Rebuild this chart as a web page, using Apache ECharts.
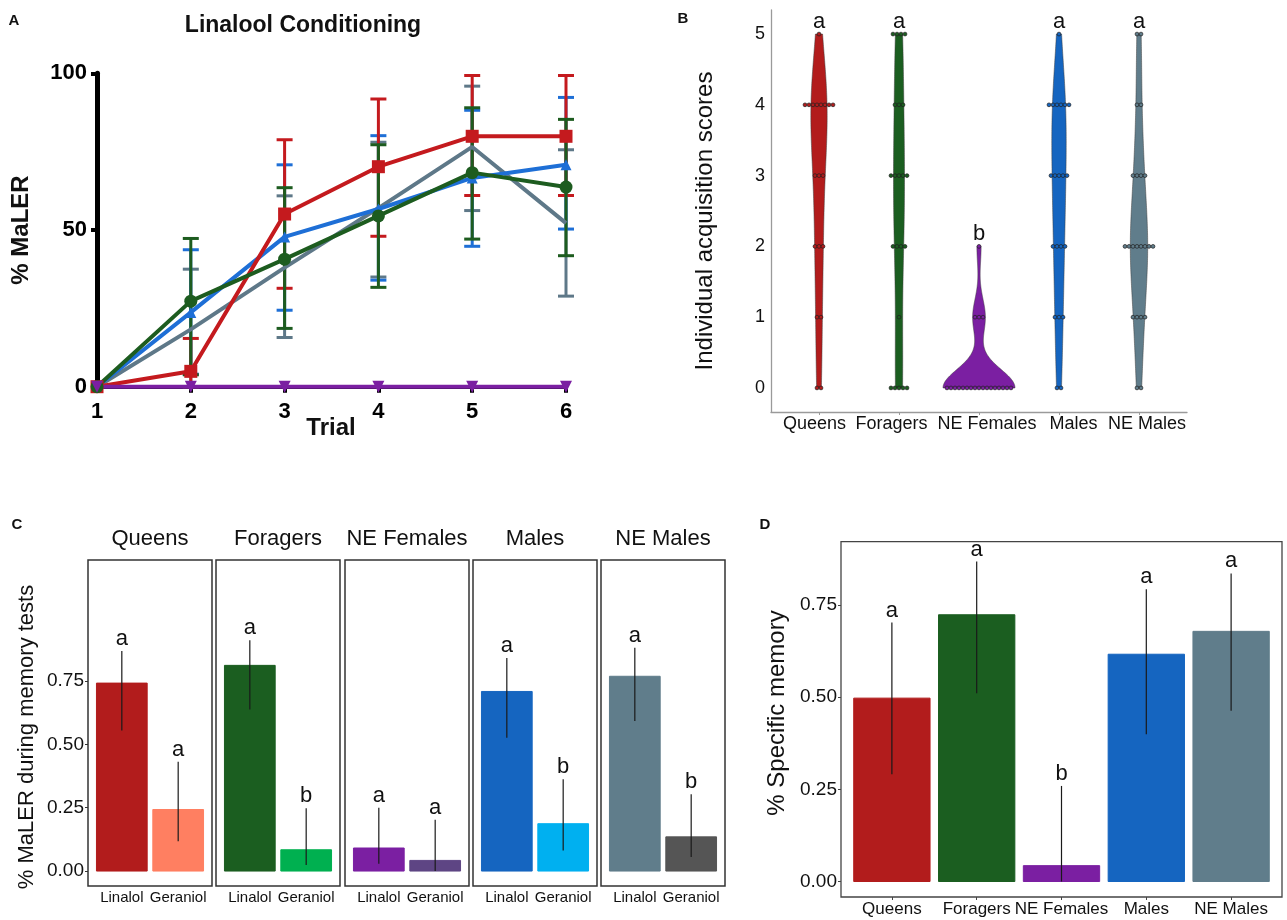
<!DOCTYPE html>
<html lang="en">
<head>
<meta charset="UTF-8">
<title>Linalool conditioning</title>
<script src="https://cdn.jsdelivr.net/npm/echarts@6/dist/echarts.min.js"></script>
<style>
    html, body { margin: 0; padding: 0; background: #fff; }
    #chart { width: 1287px; height: 920px; }
</style>
</head>
<body>
<div id="chart"></div>
<script>
// ---------- A: % MaLER per trial ----------
var trials = [1, 2, 3, 4, 5, 6];
var aQueens     = [0, 4.9, 55.1, 70.2, 79.9, 79.9];
var aQueensLo   = [0, 0, 31.4, 48.0, 61.0, 61.0];
var aQueensHi   = [0, 15.4, 78.8, 91.8, 99.3, 99.3];
var aMales      = [0, 23.7, 47.8, 56.7, 66.6, 70.8];
var aMalesLo    = [0, 4.0, 24.4, 34.0, 44.8, 50.3];
var aMalesHi    = [0, 43.7, 70.8, 80.1, 88.2, 92.3];
var aNEMales    = [0, 18.3, 38.0, 57.0, 76.5, 52.2];
var aNEMalesLo  = [0, 0, 15.7, 35.0, 56.2, 28.9];
var aNEMalesHi  = [0, 37.5, 60.9, 78.0, 95.9, 75.6];
var aForagers   = [0, 27.3, 40.7, 54.5, 68.3, 63.7];
var aForagersLo = [0, 3.8, 18.6, 31.7, 47.1, 41.8];
var aForagersHi = [0, 47.3, 63.5, 77.2, 89.0, 85.3];
var aNEFemales  = [0, 0, 0, 0, 0, 0];

// ---------- B: individual acquisition scores (dot counts per score) ----------
var bGroups = ['Queens', 'Foragers', 'NE Females', 'Males', 'NE Males'];
var bScores = [0, 1, 2, 3, 4, 5];
var bCountsQueens    = [2, 2, 3, 3, 8, 1];
var bCountsForagers  = [5, 1, 4, 5, 3, 4];
var bCountsNEFemales = [17, 3, 1, 0, 0, 0];
var bCountsMales     = [2, 3, 4, 5, 6, 1];
var bCountsNEMales   = [2, 4, 8, 4, 2, 2];
var bLetters = ['a', 'a', 'b', 'a', 'a'];

// ---------- C: memory tests, Linalol vs Geraniol ----------
var cGroups = ['Queens', 'Foragers', 'NE Females', 'Males', 'NE Males'];
var cOdors = ['Linalol', 'Geraniol'];
var cLinalol     = [0.742, 0.812, 0.091, 0.709, 0.769];
var cLinalolLo   = [0.555, 0.638, 0.029, 0.526, 0.592];
var cLinalolHi   = [0.869, 0.911, 0.250, 0.841, 0.882];
var cGeraniol    = [0.243, 0.084, 0.042, 0.187, 0.135];
var cGeraniolLo  = [0.118, 0.024, 0.000, 0.081, 0.055];
var cGeraniolHi  = [0.432, 0.248, 0.203, 0.362, 0.303];
var cLetters = [['a', 'a'], ['a', 'b'], ['a', 'a'], ['a', 'b'], ['a', 'b']];
var cTicks = [0, 0.25, 0.5, 0.75];

// ---------- D: specific memory ----------
var dGroups = ['Queens', 'Foragers', 'NE Females', 'Males', 'NE Males'];
var dValues = [0.497, 0.723, 0.043, 0.616, 0.678];
var dLo     = [0.291, 0.510, 0.000, 0.399, 0.463];
var dHi     = [0.702, 0.867, 0.259, 0.792, 0.835];
var dLetters = ['a', 'a', 'b', 'a', 'a'];
var dTicks = [0, 0.25, 0.5, 0.75];

// colours
var groupColors = ['#B21C1C', '#1B5E20', '#7B1FA2', '#1565C0', '#607D8B'];
var cColors = [['#B21C1C', '#FF7F61'], ['#1B5E20', '#00B050'], ['#7B1FA2', '#5E4584'],
               ['#1565C0', '#00B0F0'], ['#607D8B', '#555555']];
var FONT = '"Liberation Sans", Arial, sans-serif';

var chart = echarts.init(document.getElementById('chart'));

// error bars with caps for panel A
function capBars(color) {
    return function (params, api) {
        var x = api.value(0), lo = api.value(1), hi = api.value(2);
        if (hi - lo <= 0) return null;
        var p1 = api.coord([x, hi]), p2 = api.coord([x, lo]);
        var cw = 8;
        var st = { stroke: color, lineWidth: 3 };
        return {
            type: 'group',
            children: [
                { type: 'line', shape: { x1: p1[0], y1: p1[1], x2: p2[0], y2: p2[1] }, style: st },
                { type: 'line', shape: { x1: p1[0] - cw, y1: p1[1], x2: p1[0] + cw, y2: p1[1] }, style: st },
                { type: 'line', shape: { x1: p2[0] - cw, y1: p2[1], x2: p2[0] + cw, y2: p2[1] }, style: st }
            ]
        };
    };
}

function zip(xs, ys) {
    return xs.map(function (x, i) { return [x, ys[i]]; });
}
function zip3(xs, a, b) {
    return xs.map(function (x, i) { return [x, a[i], b[i]]; });
}

// bars + error line + letter (panels C and D)
function barItem(colors, letters) {
    return function (params, api) {
        var i = params.dataIndex;
        var x = api.value(0), v = api.value(1), lo = api.value(2), hi = api.value(3);
        var bw = api.size([0.9, 0])[0];
        var base = api.coord([x, 0]), top = api.coord([x, v]);
        var pLo = api.coord([x, lo]), pHi = api.coord([x, hi]);
        return {
            type: 'group',
            children: [
                { type: 'rect', shape: { x: base[0] - bw / 2, y: top[1], width: bw, height: base[1] - top[1] },
                  style: { fill: colors[i], stroke: colors[i], lineWidth: 1 } },
                { type: 'line', shape: { x1: pLo[0], y1: pLo[1], x2: pHi[0], y2: pHi[1] },
                  style: { stroke: '#1a1a1a', lineWidth: 1.2 } },
                { type: 'text', x: pHi[0], y: pHi[1] - 1,
                  style: { text: letters[i], fill: '#111', font: '22px ' + FONT, align: 'center', verticalAlign: 'bottom' } }
            ]
        };
    };
}

// ---- violin (gaussian kde, nrd0 bandwidth, area scaling) ----
var bCounts = [bCountsQueens, bCountsForagers, bCountsNEFemales, bCountsMales, bCountsNEMales];
function expand(counts) {
    var a = [];
    counts.forEach(function (c, s) { for (var k = 0; k < c; k++) a.push(bScores[s]); });
    return a;
}
function quantile(sorted, p) {
    var h = (sorted.length - 1) * p, lo = Math.floor(h);
    return sorted[lo] + (h - lo) * ((sorted[lo + 1] === undefined ? sorted[lo] : sorted[lo + 1]) - sorted[lo]);
}
function bwNrd0(x) {
    var n = x.length;
    var m = x.reduce(function (s, v) { return s + v; }, 0) / n;
    var sd = Math.sqrt(x.reduce(function (s, v) { return s + (v - m) * (v - m); }, 0) / (n - 1));
    var srt = x.slice().sort(function (a, b) { return a - b; });
    var iqr = quantile(srt, 0.75) - quantile(srt, 0.25);
    var lo = Math.min(sd, iqr / 1.34);
    if (!lo) lo = sd || 1;
    return 0.9 * lo * Math.pow(n, -0.2);
}
function density(x, bw, y) {
    var s = 0;
    for (var i = 0; i < x.length; i++) {
        var z = (y - x[i]) / bw;
        s += Math.exp(-0.5 * z * z);
    }
    return s / (x.length * bw * Math.sqrt(2 * Math.PI));
}
var violins = bCounts.map(function (c) {
    var x = expand(c);
    var bw = bwNrd0(x);
    var mn = Math.min.apply(null, x), mx = Math.max.apply(null, x);
    var pts = [];
    for (var k = 0; k <= 200; k++) {
        var y = mn + (mx - mn) * k / 200;
        pts.push([y, density(x, bw, y)]);
    }
    return { pts: pts, max: mx };
});
var dMax = 0;
violins.forEach(function (v) { v.pts.forEach(function (p) { if (p[1] > dMax) dMax = p[1]; }); });

function violinItem(params, api) {
    var i = params.dataIndex;
    var v = violins[i];
    var band = api.size([1, 0])[0];
    var right = [], left = [];
    v.pts.forEach(function (p) {
        var c = api.coord([i, p[0]]);
        var hw = 0.45 * band * p[1] / dMax;
        right.push([c[0] + hw, c[1]]);
        left.unshift([c[0] - hw, c[1]]);
    });
    var children = [{
        type: 'polygon', shape: { points: right.concat(left) },
        style: { fill: groupColors[i], stroke: '#3a3a3a', lineWidth: 0.5 }
    }];
    var dd = 4;
    bCounts[i].forEach(function (k, s) {
        var c = api.coord([i, bScores[s]]);
        for (var j = 0; j < k; j++) {
            children.push({
                type: 'circle', shape: { cx: c[0] + (j - (k - 1) / 2) * dd, cy: c[1], r: 1.9 },
                style: { fill: groupColors[i], stroke: '#202020', lineWidth: 0.7 }
            });
        }
    });
    var t = api.coord([i, v.max]);
    children.push({
        type: 'text', x: t[0], y: t[1] - 1,
        style: { text: bLetters[i], fill: '#111', font: '22px ' + FONT, align: 'center', verticalAlign: 'bottom' }
    });
    return { type: 'group', children: children };
}

// ---------- grids and axes ----------
var grids = [], xAxes = [], yAxes = [], series = [];

// A
grids.push({ left: 97, top: 73.3, width: 469, height: 313.4, outerBoundsMode: 'none' });
xAxes.push({
    type: 'value', gridIndex: 0, min: 1, max: 6, interval: 1,
    axisLine: { lineStyle: { color: '#000', width: 4 } },
    axisTick: { length: 6, lineStyle: { color: '#000', width: 4 } },
    splitLine: { show: false },
    axisLabel: { color: '#000', fontWeight: 'bold', fontSize: 22, fontFamily: FONT, margin: 14 }
});
yAxes.push({
    type: 'value', gridIndex: 0, min: 0, max: 100, interval: 50,
    axisLine: { show: true, lineStyle: { color: '#000', width: 5 } },
    axisTick: { show: true, length: 6, lineStyle: { color: '#000', width: 4 } },
    splitLine: { show: false },
    axisLabel: { color: '#000', fontWeight: 'bold', fontSize: 22, fontFamily: FONT, margin: 10 }
});
var aSets = [
    { name: 'NE Males', v: aNEMales, lo: aNEMalesLo, hi: aNEMalesHi, color: '#5E7888', symbol: 'none', size: 0 },
    { name: 'Males', v: aMales, lo: aMalesLo, hi: aMalesHi, color: '#1E6FD6', symbol: 'triangle', size: 11 },
    { name: 'Queens', v: aQueens, lo: aQueensLo, hi: aQueensHi, color: '#C41A1E', symbol: 'rect', size: 13 },
    { name: 'Foragers', v: aForagers, lo: aForagersLo, hi: aForagersHi, color: '#1D5C1F', symbol: 'circle', size: 13 }
];
aSets.forEach(function (s) {
    series.push({
        type: 'custom', xAxisIndex: 0, yAxisIndex: 0, clip: false,
        renderItem: capBars(s.color), encode: { x: 0, y: [1, 2] },
        data: zip3(trials, s.lo, s.hi)
    });
    series.push({
        type: 'line', name: s.name, xAxisIndex: 0, yAxisIndex: 0, clip: false,
        symbol: s.symbol, symbolSize: s.size, showSymbol: s.symbol !== 'none',
        lineStyle: { color: s.color, width: 4 }, itemStyle: { color: s.color },
        data: zip(trials, s.v)
    });
});
series.push({
    type: 'line', name: 'NE Females', xAxisIndex: 0, yAxisIndex: 0, clip: false,
    symbol: 'triangle', symbolRotate: 180, symbolSize: 12,
    lineStyle: { color: '#7B1FA2', width: 4 }, itemStyle: { color: '#7B1FA2' },
    data: zip(trials, aNEFemales)
});

// B
grids.push({ left: 771, top: 10, width: 416, height: 402, outerBoundsMode: 'none' });
xAxes.push({
    type: 'value', gridIndex: 1, min: -0.6, max: 4.6,
    axisLine: { onZero: false, lineStyle: { color: '#9a9a9a', width: 1.3 } },
    axisTick: { customValues: [0, 1, 2, 3, 4], length: 3, lineStyle: { color: '#9a9a9a' } },
    splitLine: { show: false },
    axisLabel: { show: false }
});
yAxes.push({
    type: 'value', gridIndex: 1, min: -0.34, max: 5.34,
    axisLine: { show: true, onZero: false, lineStyle: { color: '#9a9a9a', width: 1.3 } },
    axisTick: { show: false },
    splitLine: { show: false },
    axisLabel: { customValues: bScores, color: '#111', fontSize: 18, fontFamily: FONT, margin: 6 }
});
series.push({
    type: 'custom', xAxisIndex: 1, yAxisIndex: 1, clip: false,
    renderItem: violinItem, encode: { x: 0, y: 1 },
    data: bGroups.map(function (g, i) { return [i, 0]; })
});

// C facets
var cLefts = [88, 216, 345, 473, 601];
cGroups.forEach(function (g, f) {
    var gi = grids.length;
    grids.push({ left: cLefts[f], top: 560, width: 124, height: 326, show: true,
                 borderColor: '#333', borderWidth: 1.5, outerBoundsMode: 'none' });
    xAxes.push({
        type: 'value', gridIndex: gi, min: 0.4, max: 2.6,
        axisLine: { show: false, onZero: false }, axisTick: { show: false }, splitLine: { show: false },
        axisLabel: { customValues: [1, 2], formatter: function (v) { return cOdors[Math.round(v) - 1]; },
                     color: '#111', fontSize: 15, fontFamily: FONT, margin: 4 }
    });
    yAxes.push({
        type: 'value', gridIndex: gi, min: -0.059, max: 1.228,
        axisLine: { show: false, onZero: false }, splitLine: { show: false },
        axisTick: { show: f === 0, customValues: cTicks, length: 3, lineStyle: { color: '#333' } },
        axisLabel: { show: f === 0, customValues: cTicks, formatter: function (v) { return v.toFixed(2); },
                     color: '#111', fontSize: 19, fontFamily: FONT, margin: 4 }
    });
    series.push({
        type: 'custom', xAxisIndex: gi, yAxisIndex: gi, clip: false,
        renderItem: barItem(cColors[f], cLetters[f]), encode: { x: 0, y: [1, 2, 3] },
        data: [[1, cLinalol[f], cLinalolLo[f], cLinalolHi[f]], [2, cGeraniol[f], cGeraniolLo[f], cGeraniolHi[f]]]
    });
});

// D
var dg = grids.length;
grids.push({ left: 841, top: 541.7, width: 441, height: 355.3, show: true,
             borderColor: '#444', borderWidth: 1.3, outerBoundsMode: 'none' });
xAxes.push({
    type: 'value', gridIndex: dg, min: -0.6, max: 4.6,
    axisLine: { show: false, onZero: false }, splitLine: { show: false },
    axisTick: { customValues: [0, 1, 2, 3, 4], length: 3, lineStyle: { color: '#444' } },
    axisLabel: { customValues: [0, 1, 2, 3, 4], formatter: function (v) { return dGroups[Math.round(v)]; },
                 color: '#111', fontSize: 17, fontFamily: FONT, margin: 4 }
});
yAxes.push({
    type: 'value', gridIndex: dg, min: -0.042, max: 0.921,
    axisLine: { show: false, onZero: false }, splitLine: { show: false },
    axisTick: { show: true, customValues: dTicks, length: 3, lineStyle: { color: '#444' } },
    axisLabel: { customValues: dTicks, formatter: function (v) { return v.toFixed(2); },
                 color: '#111', fontSize: 19, fontFamily: FONT, margin: 4 }
});
series.push({
    type: 'custom', xAxisIndex: dg, yAxisIndex: dg, clip: false,
    renderItem: barItem(groupColors, dLetters), encode: { x: 0, y: [1, 2, 3] },
    data: dGroups.map(function (g, i) { return [i, dValues[i], dLo[i], dHi[i]]; })
});

// ---------- texts ----------
function txt(x, y, s, font, rot) {
    return { type: 'text', x: x, y: y, rotation: rot || 0,
             style: { text: s, font: font, fill: '#111', align: 'center', verticalAlign: 'middle' } };
}
var graphics = [
    txt(14, 21, 'A', 'bold 15px ' + FONT),
    txt(303, 26, 'Linalool Conditioning', 'bold 23px ' + FONT),
    txt(21, 230, '% MaLER', 'bold 24px ' + FONT, Math.PI / 2),
    txt(331, 428, 'Trial', 'bold 24px ' + FONT),
    txt(683, 19, 'B', 'bold 15px ' + FONT),
    txt(705, 221, 'Individual acquisition scores', '24px ' + FONT, Math.PI / 2),
    txt(17, 525, 'C', 'bold 15px ' + FONT),
    txt(27, 737, '% MaLER during memory tests', '22px ' + FONT, Math.PI / 2),
    txt(765, 525, 'D', 'bold 15px ' + FONT),
    txt(777, 713, '% Specific memory', '24px ' + FONT, Math.PI / 2)
];
cGroups.forEach(function (g, f) {
    graphics.push(txt(cLefts[f] + 62, 539, g, '22px ' + FONT));
});
// panel B category labels sit slightly off the violin centres in the original
var bLabelX = [814.5, 891.5, 987, 1073.5, 1147];
bGroups.forEach(function (g, i) {
    graphics.push(txt(bLabelX[i], 424, g, '18px ' + FONT));
});

chart.setOption({
    backgroundColor: '#fff',
    animation: false,
    grid: grids,
    xAxis: xAxes,
    yAxis: yAxes,
    series: series,
    graphic: graphics
});
</script>
</body>
</html>
